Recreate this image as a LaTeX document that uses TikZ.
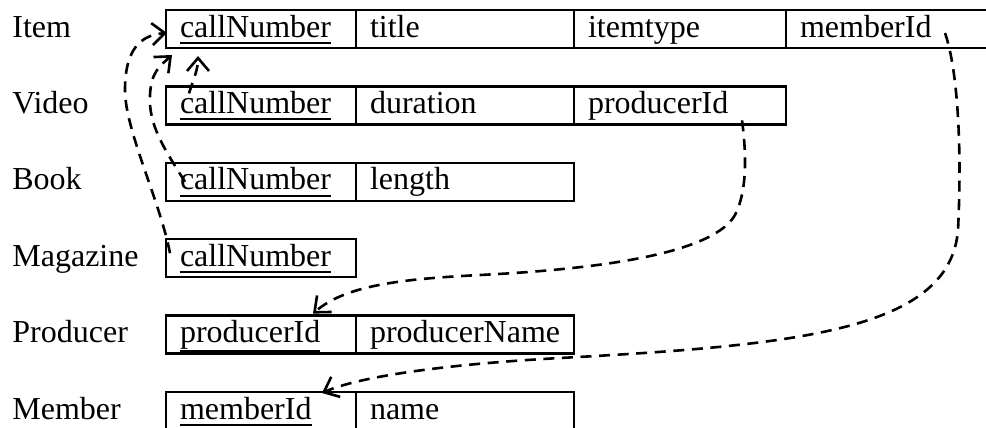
\documentclass[tikz,border=0pt]{standalone}
\usepackage{fontspec}
\setmainfont{Liberation Serif}
\usetikzlibrary{arrows.meta,positioning}
\newcommand{\ukey}[1]{\setbox0\hbox{#1}\dimen0=\dp0 \ifdim\dimen0<2.2pt \dimen0=2.2pt\fi
  \advance\dimen0 by 1.2pt \rlap{\rule[-\dimen0]{\wd0}{0.9pt}}\box0}

\begin{document}
\begin{tikzpicture}[x=0.5pt, y=-0.5pt, >={Straight Barb[length=6.5pt,width=11pt]},
  font=\fontsize{16}{19}\selectfont,
  cell/.style={draw, line width=1.2pt, outer sep=0pt, inner xsep=7pt, inner ysep=0pt, minimum height=19pt, text width=#1, text height=11pt, text depth=3pt, align=left},
  lbl/.style={anchor=base west, inner sep=0pt},
  fk/.style={->, line width=1.3pt, dash pattern=on 5.5pt off 3.8pt}]
  \useasboundingbox (0,0) rectangle (986,428);
  \node[cell=81pt, anchor=west] (it1) at (166,29) {\ukey{callNumber}};
  \node[cell=95pt, right=0pt of it1] (it2) {title};
  \node[cell=92pt, right=0pt of it2] (it3) {itemtype};
  \node[cell=93pt, right=0pt of it3] (it4) {memberId};
  \node[cell=81pt, below=19.2pt of it1] (vd1) {\ukey{callNumber}};
  \node[cell=95pt, right=0pt of vd1] (vd2) {duration};
  \node[cell=92pt, right=0pt of vd2] (vd3) {producerId};
  \node[cell=81pt, below=19.2pt of vd1] (bk1) {\ukey{callNumber}};
  \node[cell=95pt, right=0pt of bk1] (bk2) {length};
  \node[cell=81pt, below=19.2pt of bk1] (mg1) {\ukey{callNumber}};
  \node[cell=81pt, below=19.2pt of mg1] (pr1) {\ukey{producerId}};
  \node[cell=95pt, right=0pt of pr1] (pr2) {producerName};
  \node[cell=81pt, below=19.2pt of pr1] (mb1) {\ukey{memberId}};
  \node[cell=95pt, right=0pt of mb1] (mb2) {name};
  \node[lbl] (lit) at (12,0 |- it1.base) {Item};
  \node[lbl] (lvd) at (12,0 |- vd1.base) {Video};
  \node[lbl] (lbk) at (12,0 |- bk1.base) {Book};
  \node[lbl] (lmg) at (12,0 |- mg1.base) {Magazine};
  \node[lbl] (lpr) at (12,0 |- pr1.base) {Producer};
  \node[lbl] (lmb) at (12,0 |- mb1.base) {Member};
  \draw[fk] ([xshift=11.5pt,yshift=-3.5pt]vd1.north west) .. controls +(4,-13) and +(0,14) .. ([xshift=16pt,yshift=-4pt]it1.south west);
  \draw[fk] ([xshift=9.5pt,yshift=-9.5pt]bk1.north west) .. controls +(-20,-32) and +(-2,30) .. (150,95)
    .. controls +(1,-23) and +(-12,11) .. ([xshift=3pt,yshift=-3.5pt]it1.south west);
  \draw[fk] ([xshift=2pt,yshift=-7pt]mg1.north west) .. controls +(-10,-52) and +(0,40) .. (125,90)
    .. controls +(0,-40) and +(-27,2) .. ([xshift=0.5pt,yshift=-2pt]it1.west);
  \draw[fk] ([xshift=-22pt,yshift=2pt]vd3.south east) .. controls +(4,30) and +(13,-25) .. (735,215)
    .. controls +(-20,35) and +(140,-7) .. (480,275)
    .. controls +(-80,4) and +(32,-28) .. ([xshift=-21.5pt,yshift=1pt]pr1.north east);
  \draw[fk] ([xshift=79.5pt,yshift=7.5pt]it4.south west) .. controls +(13,37) and +(4,-80) .. (958,230)
    .. controls +(-8,100) and +(240,-13) .. (560,358)
    .. controls +(-110,6) and +(38,-17) .. ([xshift=-17pt,yshift=-0.5pt]mb1.north east);
\end{tikzpicture}
\end{document}
